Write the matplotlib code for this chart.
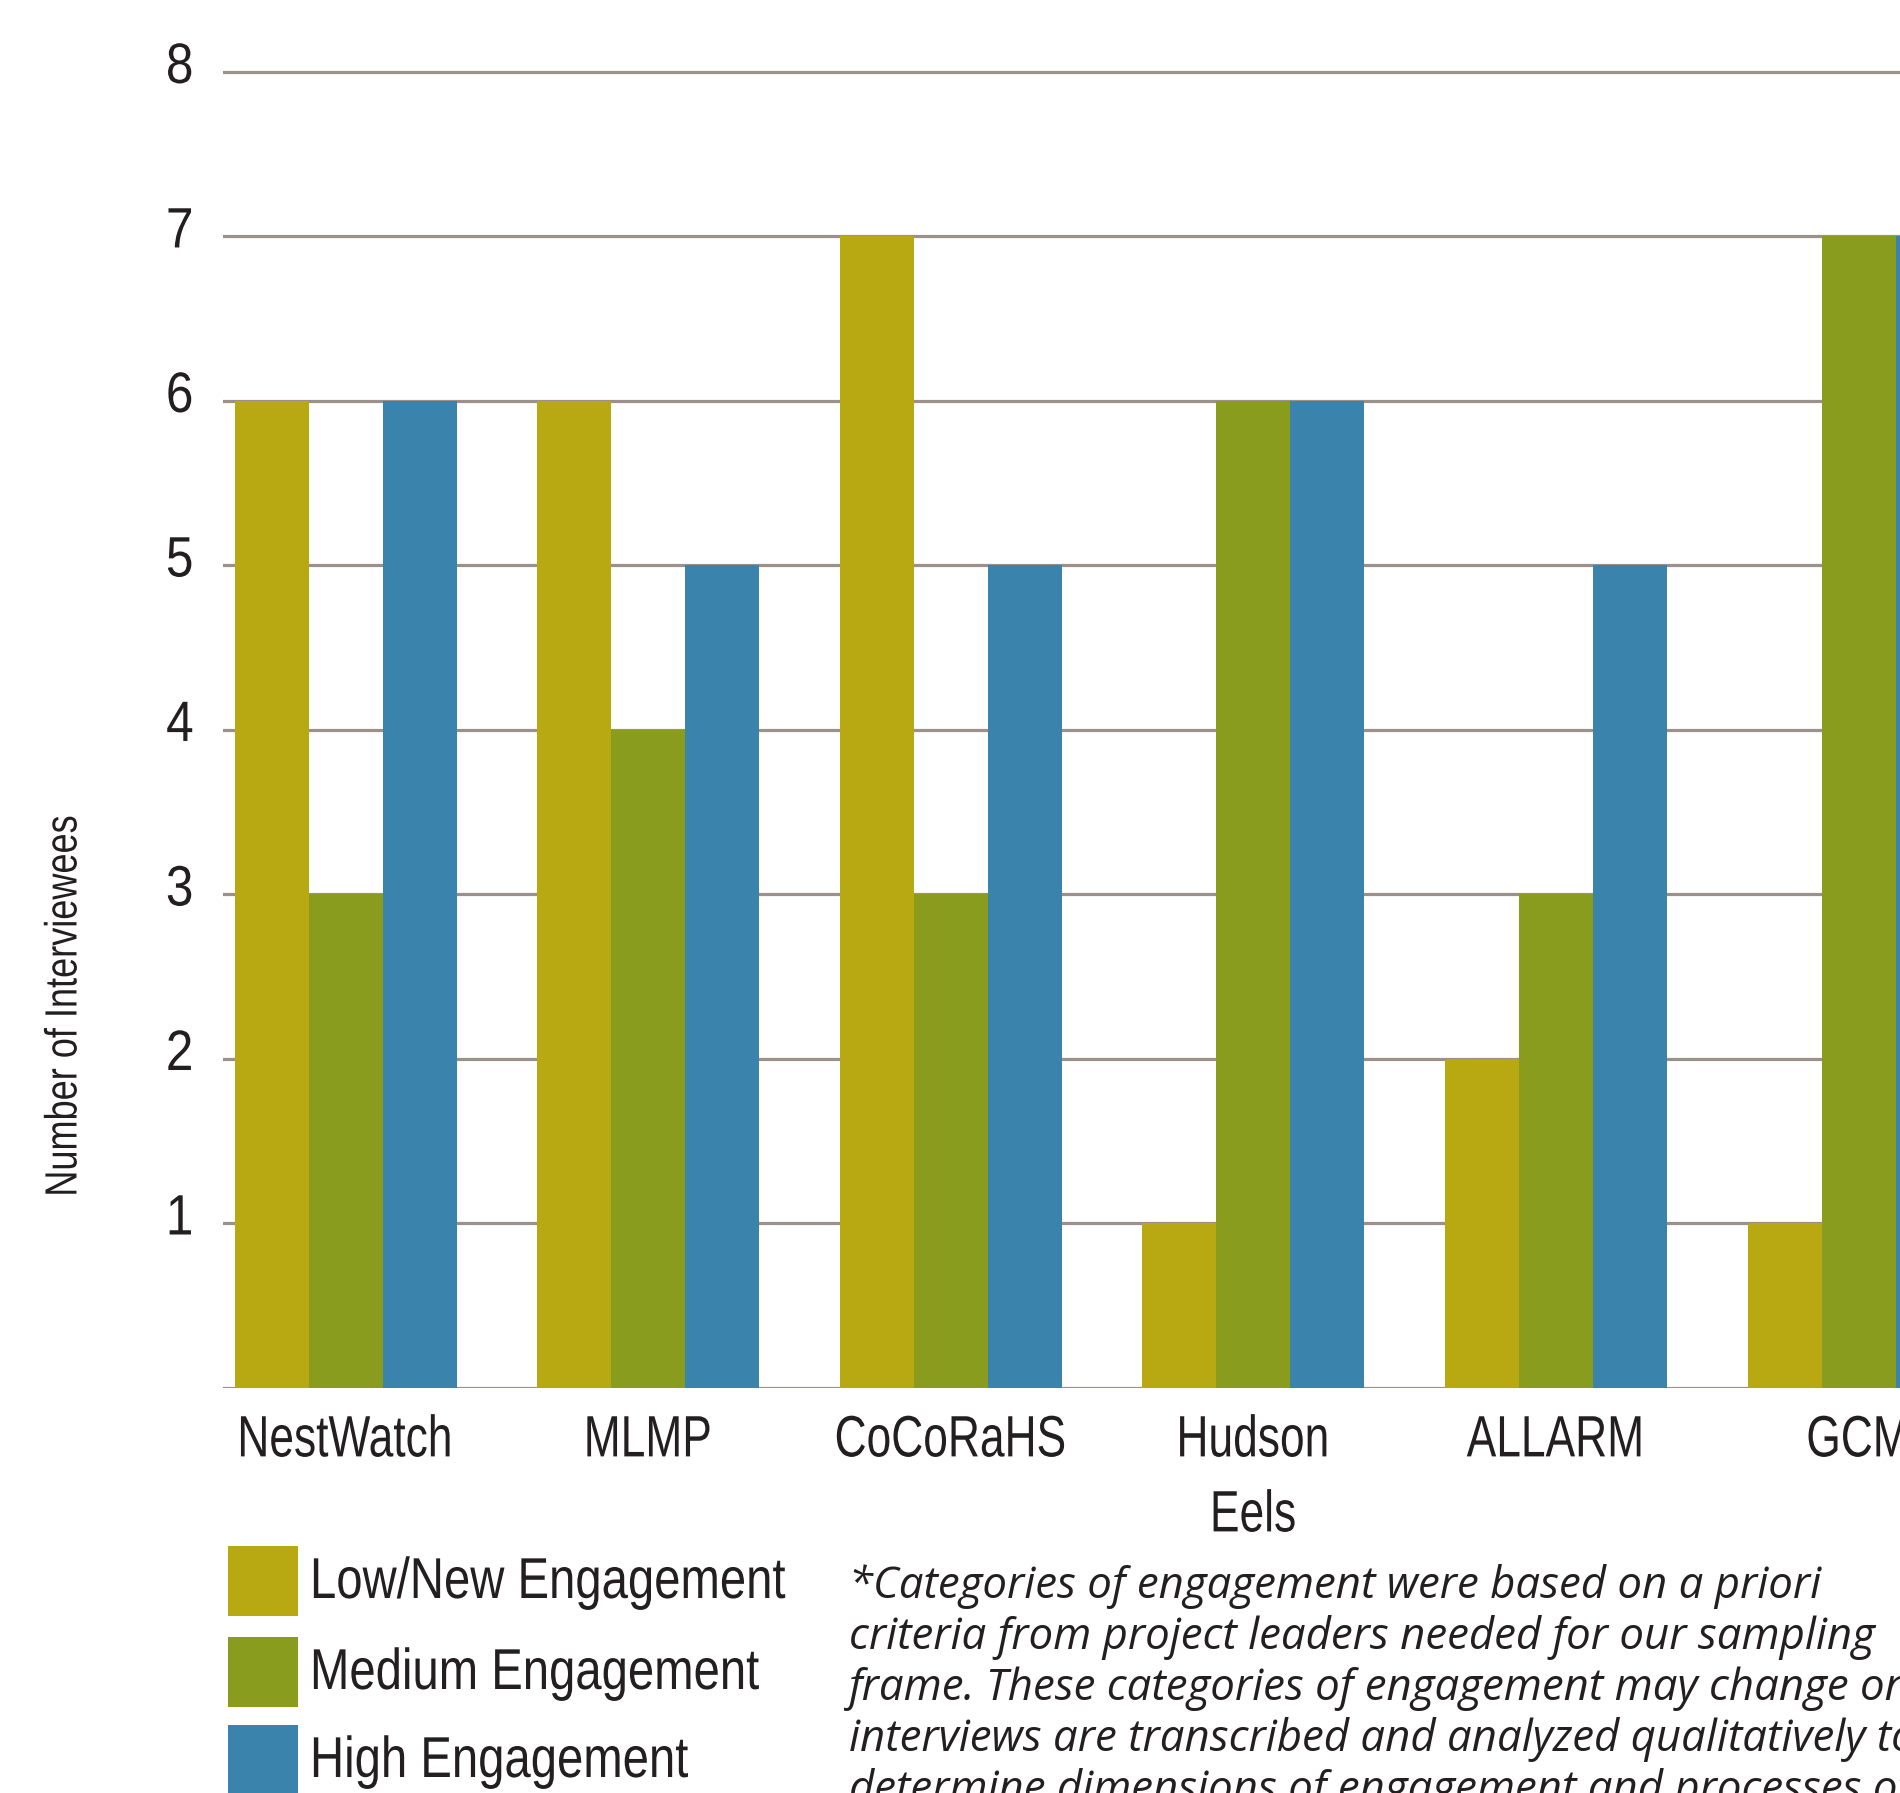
import matplotlib
matplotlib.use('Agg')
import matplotlib.pyplot as plt
import matplotlib.transforms as mtransforms
from matplotlib.patches import Rectangle
from matplotlib.patheffects import AbstractPathEffect
import numpy as np

# data
projects = ['NestWatch', 'MLMP', 'CoCoRaHS', 'Hudson\nEels', 'ALLARM', 'GCM']
low_new = [6, 6, 7, 1, 2, 1]
medium = [3, 4, 3, 6, 3, 7]
high = [6, 5, 5, 6, 5, 7]
series_names = ['Low/New Engagement', 'Medium Engagement', 'High Engagement']
y_ticks = [1, 2, 3, 4, 5, 6, 7, 8]
footnote_lines = [
    '*Categories of engagement were based on a priori',
    'criteria from project leaders needed for our sampling',
    'frame. These categories of engagement may change once',
    'interviews are transcribed and analyzed qualitatively to',
    'determine dimensions of engagement and processes of',
]

colors = ['#B8A913', '#899C1D', '#3A83AC']
grid_color = '#9C918A'
text_color = '#231F20'
sans = ['Liberation Sans', 'DejaVu Sans']


class Squeeze(AbstractPathEffect):
    """Draw text narrower (no condensed font installed)."""

    def __init__(self, sx, anchor='center'):
        super().__init__()
        self.sx = sx
        self.anchor = anchor

    def draw_path(self, renderer, gc, tpath, affine, rgbFace=None):
        v = tpath.vertices
        if len(v) == 0:
            return
        x0, x1 = v[:, 0].min(), v[:, 0].max()
        cx = {'left': 0.0, 'center': (x0 + x1) / 2, 'right': x1}[self.anchor]
        squeeze = mtransforms.Affine2D().translate(-cx, 0).scale(self.sx, 1).translate(cx, 0)
        renderer.draw_path(gc, tpath, squeeze + affine, rgbFace)


W, H = 1900, 1793
fig = plt.figure(figsize=(W / 100, H / 100), dpi=100)

# axes placed in pixels; right side runs off the page like the original
left_px, base_px, top_px = 223, 1388, 22.6
ax = fig.add_axes([left_px / W, (H - base_px) / H, (W - left_px) / W, (base_px - top_px) / H])

x = np.arange(len(projects))
bw = 0.2446
for k, vals in enumerate([low_new, medium, high]):
    ax.bar(x + (k - 1) * bw, vals, width=bw, color=colors[k], linewidth=0, zorder=3)

ax.set_xlim(-0.405, 5.137)
ax.set_ylim(0, 8.3)
for s in ax.spines.values():
    s.set_visible(False)
for yv in [0] + y_ticks:
    ax.axhline(yv, color=grid_color, linewidth=2.3, zorder=1)

ax.set_yticks(y_ticks)
ax.set_yticklabels([str(v) for v in y_ticks], fontsize=41, family=sans, color=text_color)
ax.tick_params(axis='y', length=0, pad=21)
offset = mtransforms.ScaledTranslation(0, 10 / 100, fig.dpi_scale_trans)
for lab in ax.get_yticklabels():
    lab.set_transform(lab.get_transform() + offset)
    lab.set_path_effects([Squeeze(0.87, 'right')])

ax.set_xticks(x)
ax.set_xticklabels(projects, fontsize=42, family=sans, color=text_color, linespacing=1.5)
ax.tick_params(axis='x', length=0, pad=19)
for lab in ax.get_xticklabels():
    lab.set_path_effects([Squeeze(0.76, 'center')])

fig.text(65 / W, (H - 1006) / H, 'Number of Interviewees', rotation=90, ha='center', va='center',
         fontsize=32.5, family=sans, color=text_color, path_effects=[Squeeze(0.80, 'center')])

# legend drawn by hand
for k, name in enumerate(series_names):
    top = [1546, 1637, 1725][k]
    fig.patches.append(Rectangle((228 / W, (H - top - 70) / H), 70 / W, 70 / H,
                                 transform=fig.transFigure, color=colors[k], linewidth=0))
    fig.text(310 / W, (H - top - 52) / H, name, ha='left', va='baseline',
             fontsize=41.5, family=sans, color=text_color, path_effects=[Squeeze(0.82, 'left')])

for i, line in enumerate(footnote_lines):
    fig.text(849 / W, (H - 1598 - i * 51) / H, line, ha='left', va='baseline',
             fontsize=31.5, family=['Open Sans', 'DejaVu Sans'], style='italic', color=text_color)

fig.savefig('out.png', dpi=100)
